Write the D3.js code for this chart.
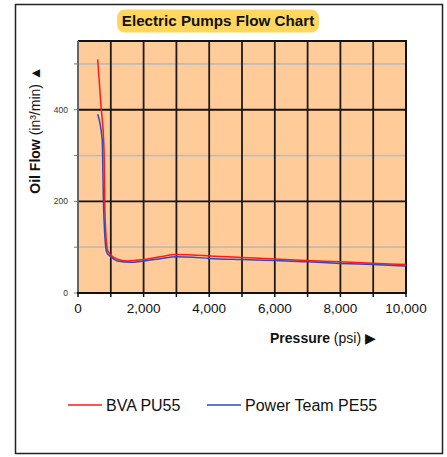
<!DOCTYPE html>
<meta charset="utf-8">
<body style="margin:0;background:#fff">
<script src="https://d3js.org/d3.v7.min.js"></script>
<svg></svg>
<script>
    var width = 447;
    var height = 457;

    // chart data (psi vs in3/min)
    var bvaPressure = [600, 700, 790, 808, 815, 835, 870, 910, 1000, 1200, 1500, 2000, 2500, 3000, 3500, 4000, 5000, 6000, 7000, 8000, 9000, 10000];
    var bvaFlow     = [510, 410, 320, 250, 200, 150, 110, 92, 83, 74, 70, 73, 79, 84, 83, 81, 77.5, 74, 71, 68, 65, 62];
    var pteamPressure = [600, 740, 760, 775, 800, 845, 880, 1000, 1200, 1600, 2000, 2500, 3000, 3500, 4000, 5000, 6000, 7000, 8000, 9000, 10000];
    var pteamFlow     = [390, 333, 260, 200, 150, 100, 88, 79, 70, 67, 70, 75, 79, 78, 75.5, 73, 71, 68, 64.5, 62, 59];
    var xTicks = [0, 2000, 4000, 6000, 8000, 10000];
    var yTicks = [0, 200, 400];
    var seriesNames = ["BVA PU55", "Power Team PE55"];
    var seriesColors = ["#ff1a1a", "#3048c0"];

    var svg = d3.select("svg")
        .attr("width", width)
        .attr("height", height)
        .style("display", "block")
        .style("font-family", "'Liberation Sans', Arial, sans-serif");

    // outer frame
    svg.append("rect")
        .attr("x", 15.5).attr("y", 4.5)
        .attr("width", 427).attr("height", 449)
        .attr("fill", "white").attr("stroke", "#222").attr("stroke-width", 1.5);

    var x = d3.scaleLinear().domain([0, 10000]).range([78, 406]);
    var y = d3.scaleLinear().domain([0, 550]).range([293, 41]);

    // plot background
    svg.append("rect")
        .attr("x", x(0)).attr("y", y(550))
        .attr("width", x(10000) - x(0)).attr("height", y(0) - y(550))
        .attr("fill", "#ffcc99");

    // horizontal grid: gray minor, black major
    svg.selectAll(".hminor")
        .data([100, 300, 500])
        .enter().append("line")
        .attr("x1", x(0)).attr("x2", x(10000))
        .attr("y1", d => y(d)).attr("y2", d => y(d))
        .attr("stroke", "#bdbdbd").attr("stroke-width", 1.8);

    svg.selectAll(".hmajor")
        .data([200, 400])
        .enter().append("line")
        .attr("x1", x(0)).attr("x2", x(10000))
        .attr("y1", d => y(d)).attr("y2", d => y(d))
        .attr("stroke", "#111").attr("stroke-width", 1.8);

    // vertical grid every 1000 psi
    svg.selectAll(".vgrid")
        .data(d3.range(1000, 10000, 1000))
        .enter().append("line")
        .attr("x1", d => x(d)).attr("x2", d => x(d))
        .attr("y1", y(550)).attr("y2", y(0))
        .attr("stroke", "#1a1a1a").attr("stroke-width", 1.8);

    // top & right border
    svg.append("path")
        .attr("d", "M" + x(0) + "," + y(550) + "H" + x(10000) + "V" + y(0))
        .attr("fill", "none").attr("stroke", "#111").attr("stroke-width", 2);

    // y axis (gray) with small ticks every 100
    svg.append("line")
        .attr("x1", x(0)).attr("x2", x(0))
        .attr("y1", y(550)).attr("y2", y(0))
        .attr("stroke", "#666").attr("stroke-width", 2);
    svg.selectAll(".ytick")
        .data(d3.range(0, 600, 100))
        .enter().append("line")
        .attr("x1", x(0) - 4).attr("x2", x(0))
        .attr("y1", d => y(d)).attr("y2", d => y(d))
        .attr("stroke", "#777").attr("stroke-width", 1);
    svg.selectAll(".ylab")
        .data(yTicks)
        .enter().append("text")
        .attr("x", x(0) - 10).attr("y", d => y(d) + 3)
        .attr("text-anchor", "end")
        .attr("font-size", 8.5).attr("fill", "#333")
        .text(d => d);

    // x axis (black) with ticks every 1000
    svg.append("line")
        .attr("x1", x(0) - 1).attr("x2", x(10000) + 1)
        .attr("y1", y(0)).attr("y2", y(0))
        .attr("stroke", "#111").attr("stroke-width", 2);
    svg.selectAll(".xtick")
        .data(d3.range(0, 11000, 1000))
        .enter().append("line")
        .attr("x1", d => x(d)).attr("x2", d => x(d))
        .attr("y1", y(0)).attr("y2", y(0) + 4)
        .attr("stroke", "#111").attr("stroke-width", 1.5);
    svg.selectAll(".xlab")
        .data(xTicks)
        .enter().append("text")
        .attr("x", d => x(d)).attr("y", 313)
        .attr("text-anchor", "middle")
        .attr("font-size", 13.5).attr("fill", "#111")
        .text(d3.format(","));

    // series lines
    var line = d3.line()
        .x(d => x(d[0]))
        .y(d => y(d[1]))
        .curve(d3.curveMonotoneX);

    var series = [
        d3.zip(bvaPressure, bvaFlow),
        d3.zip(pteamPressure, pteamFlow)
    ];
    svg.selectAll(".series")
        .data(series)
        .enter().append("path")
        .attr("d", line)
        .attr("fill", "none")
        .attr("stroke", (d, i) => seriesColors[i])
        .attr("stroke-width", 1.5);

    // title
    svg.append("rect")
        .attr("x", 117).attr("y", 9.5)
        .attr("width", 202).attr("height", 23)
        .attr("rx", 8)
        .attr("fill", "#ffd75e");
    svg.append("text")
        .attr("x", 218).attr("y", 26)
        .attr("text-anchor", "middle")
        .attr("font-size", 15.2).attr("font-weight", "bold").attr("fill", "#111")
        .text("Electric Pumps Flow Chart");

    // y axis title
    var yt = svg.append("text")
        .attr("transform", "translate(40,130) rotate(-90)")
        .attr("text-anchor", "middle")
        .attr("font-size", 14).attr("fill", "#111");
    yt.append("tspan").attr("font-weight", "bold").text("Oil Flow");
    yt.append("tspan").text(" (in³/min) ▲");

    // x axis title
    var xt = svg.append("text")
        .attr("x", 323).attr("y", 343)
        .attr("text-anchor", "middle")
        .attr("font-size", 14).attr("fill", "#111");
    xt.append("tspan").attr("font-weight", "bold").text("Pressure");
    xt.append("tspan").text(" (psi) ▶");

    // legend
    var legendX = [68, 207];
    var legend = svg.selectAll(".legend")
        .data(seriesNames)
        .enter().append("g")
        .attr("transform", (d, i) => "translate(" + legendX[i] + ",405)");
    legend.append("line")
        .attr("x1", 0).attr("x2", 34)
        .attr("stroke", (d, i) => seriesColors[i]).attr("stroke-width", 1.5);
    legend.append("text")
        .attr("x", 38).attr("y", 5.5)
        .attr("font-size", 16).attr("fill", "#111")
        .text(d => d);
</script>
